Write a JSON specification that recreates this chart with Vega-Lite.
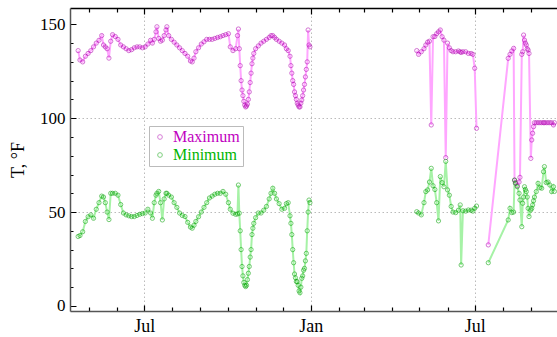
{
"$schema":"https://vega.github.io/schema/vega-lite/v6.json",
"width":488,"height":303,
"autosize":{"type":"none"},
"padding":{"left":70,"top":8,"right":0,"bottom":26},
"background":"white",
"config":{"view":{"stroke":null},"font":"Liberation Serif"},
"data":{"values":[
{"d":"2013-04-19","s":1,"Maximum":136,"Minimum":37},
{"d":"2013-04-21","s":1,"Maximum":131,"Minimum":37.5},
{"d":"2013-04-24","s":1,"Maximum":130,"Minimum":39.5},
{"d":"2013-04-27","s":1,"Maximum":133,"Minimum":45},
{"d":"2013-04-30","s":1,"Maximum":134.5,"Minimum":47.5},
{"d":"2013-05-03","s":1,"Maximum":136,"Minimum":48.5},
{"d":"2013-05-06","s":1,"Maximum":138,"Minimum":46.7},
{"d":"2013-05-09","s":1,"Maximum":140,"Minimum":51.5},
{"d":"2013-05-12","s":1,"Maximum":141.5,"Minimum":55},
{"d":"2013-05-15","s":1,"Maximum":144,"Minimum":58.5},
{"d":"2013-05-17","s":1,"Maximum":139,"Minimum":58},
{"d":"2013-05-19","s":1,"Maximum":138,"Minimum":55},
{"d":"2013-05-21","s":1,"Maximum":137,"Minimum":50},
{"d":"2013-05-23","s":1,"Maximum":132,"Minimum":46},
{"d":"2013-05-25","s":1,"Maximum":141,"Minimum":60},
{"d":"2013-05-27","s":1,"Maximum":144.5,"Minimum":60},
{"d":"2013-05-30","s":1,"Maximum":143.5,"Minimum":60},
{"d":"2013-06-02","s":1,"Maximum":142,"Minimum":59},
{"d":"2013-06-05","s":1,"Maximum":139,"Minimum":54},
{"d":"2013-06-08","s":1,"Maximum":138,"Minimum":49.5},
{"d":"2013-06-11","s":1,"Maximum":137,"Minimum":48.5},
{"d":"2013-06-14","s":1,"Maximum":136,"Minimum":48},
{"d":"2013-06-17","s":1,"Maximum":136.5,"Minimum":47.6},
{"d":"2013-06-20","s":1,"Maximum":137.5,"Minimum":47.6},
{"d":"2013-06-23","s":1,"Maximum":138,"Minimum":48.2},
{"d":"2013-06-26","s":1,"Maximum":138,"Minimum":48.8},
{"d":"2013-06-29","s":1,"Maximum":137.5,"Minimum":49.2},
{"d":"2013-07-02","s":1,"Maximum":138,"Minimum":49.5},
{"d":"2013-07-05","s":1,"Maximum":139.5,"Minimum":51.5},
{"d":"2013-07-08","s":1,"Maximum":141.5,"Minimum":49.5},
{"d":"2013-07-10","s":1,"Maximum":140,"Minimum":46.7},
{"d":"2013-07-12","s":1,"Maximum":142,"Minimum":55},
{"d":"2013-07-14","s":1,"Maximum":146,"Minimum":59},
{"d":"2013-07-15","s":1,"Maximum":148.7,"Minimum":60},
{"d":"2013-07-17","s":1,"Maximum":142.5,"Minimum":61},
{"d":"2013-07-19","s":1,"Maximum":141,"Minimum":55},
{"d":"2013-07-21","s":1,"Maximum":141.6,"Minimum":45.8},
{"d":"2013-07-23","s":1,"Maximum":144,"Minimum":57},
{"d":"2013-07-25","s":1,"Maximum":147,"Minimum":60},
{"d":"2013-07-26","s":1,"Maximum":148.7,"Minimum":60},
{"d":"2013-07-28","s":1,"Maximum":144,"Minimum":59},
{"d":"2013-07-31","s":1,"Maximum":142,"Minimum":58},
{"d":"2013-08-03","s":1,"Maximum":140.5,"Minimum":55},
{"d":"2013-08-06","s":1,"Maximum":139,"Minimum":52.5},
{"d":"2013-08-09","s":1,"Maximum":137.5,"Minimum":49.5},
{"d":"2013-08-12","s":1,"Maximum":136,"Minimum":48.2},
{"d":"2013-08-15","s":1,"Maximum":134.5,"Minimum":47.6},
{"d":"2013-08-18","s":1,"Maximum":133,"Minimum":44.5},
{"d":"2013-08-21","s":1,"Maximum":130.5,"Minimum":42},
{"d":"2013-08-23","s":1,"Maximum":130,"Minimum":41.4},
{"d":"2013-08-25","s":1,"Maximum":132,"Minimum":43},
{"d":"2013-08-27","s":1,"Maximum":135.4,"Minimum":45},
{"d":"2013-08-30","s":1,"Maximum":137.5,"Minimum":47.5},
{"d":"2013-09-02","s":1,"Maximum":139.5,"Minimum":50},
{"d":"2013-09-05","s":1,"Maximum":140.7,"Minimum":52.5},
{"d":"2013-09-08","s":1,"Maximum":142,"Minimum":55},
{"d":"2013-09-11","s":1,"Maximum":142,"Minimum":57.5},
{"d":"2013-09-14","s":1,"Maximum":142,"Minimum":58.5},
{"d":"2013-09-17","s":1,"Maximum":142.5,"Minimum":59.5},
{"d":"2013-09-20","s":1,"Maximum":143,"Minimum":60},
{"d":"2013-09-23","s":1,"Maximum":143.4,"Minimum":60},
{"d":"2013-09-26","s":1,"Maximum":144,"Minimum":61},
{"d":"2013-09-29","s":1,"Maximum":144.5,"Minimum":59.5},
{"d":"2013-10-02","s":1,"Maximum":145,"Minimum":55},
{"d":"2013-10-04","s":1,"Maximum":138,"Minimum":51.5},
{"d":"2013-10-07","s":1,"Maximum":136,"Minimum":49.4},
{"d":"2013-10-10","s":1,"Maximum":137,"Minimum":48.8},
{"d":"2013-10-12","s":1,"Maximum":144,"Minimum":49},
{"d":"2013-10-13","s":1,"Maximum":147.5,"Minimum":64.4},
{"d":"2013-10-14","s":1,"Maximum":137,"Minimum":49.4},
{"d":"2013-10-15","s":1,"Maximum":128,"Minimum":40},
{"d":"2013-10-16","s":1,"Maximum":120,"Minimum":30},
{"d":"2013-10-17","s":1,"Maximum":115,"Minimum":21},
{"d":"2013-10-18","s":1,"Maximum":112,"Minimum":16},
{"d":"2013-10-19","s":1,"Maximum":109,"Minimum":12.5},
{"d":"2013-10-20","s":1,"Maximum":107,"Minimum":11},
{"d":"2013-10-21","s":1,"Maximum":106,"Minimum":10.3},
{"d":"2013-10-22","s":1,"Maximum":106.5,"Minimum":11},
{"d":"2013-10-23","s":1,"Maximum":107.5,"Minimum":14},
{"d":"2013-10-24","s":1,"Maximum":110,"Minimum":17.4},
{"d":"2013-10-25","s":1,"Maximum":114,"Minimum":21},
{"d":"2013-10-26","s":1,"Maximum":119,"Minimum":26},
{"d":"2013-10-27","s":1,"Maximum":124,"Minimum":30},
{"d":"2013-10-28","s":1,"Maximum":129,"Minimum":38},
{"d":"2013-10-29","s":1,"Maximum":132,"Minimum":41.4},
{"d":"2013-10-30","s":1,"Maximum":134.5,"Minimum":44},
{"d":"2013-11-01","s":1,"Maximum":137,"Minimum":47},
{"d":"2013-11-04","s":1,"Maximum":138.5,"Minimum":49.5},
{"d":"2013-11-07","s":1,"Maximum":140,"Minimum":49.5},
{"d":"2013-11-10","s":1,"Maximum":141,"Minimum":51},
{"d":"2013-11-13","s":1,"Maximum":142,"Minimum":53},
{"d":"2013-11-16","s":1,"Maximum":143,"Minimum":57},
{"d":"2013-11-18","s":1,"Maximum":144,"Minimum":60},
{"d":"2013-11-20","s":1,"Maximum":144,"Minimum":62.7},
{"d":"2013-11-22","s":1,"Maximum":143,"Minimum":60},
{"d":"2013-11-24","s":1,"Maximum":142,"Minimum":57},
{"d":"2013-11-27","s":1,"Maximum":141,"Minimum":54.5},
{"d":"2013-11-30","s":1,"Maximum":140,"Minimum":51.5},
{"d":"2013-12-03","s":1,"Maximum":139,"Minimum":52},
{"d":"2013-12-05","s":1,"Maximum":137,"Minimum":54.5},
{"d":"2013-12-07","s":1,"Maximum":136,"Minimum":55},
{"d":"2013-12-09","s":1,"Maximum":133,"Minimum":48},
{"d":"2013-12-10","s":1,"Maximum":128,"Minimum":44},
{"d":"2013-12-11","s":1,"Maximum":124,"Minimum":38},
{"d":"2013-12-12","s":1,"Maximum":120,"Minimum":30},
{"d":"2013-12-13","s":1,"Maximum":118,"Minimum":23},
{"d":"2013-12-14","s":1,"Maximum":114,"Minimum":17},
{"d":"2013-12-15","s":1,"Maximum":112,"Minimum":15},
{"d":"2013-12-16","s":1,"Maximum":110,"Minimum":13},
{"d":"2013-12-17","s":1,"Maximum":108,"Minimum":12.9},
{"d":"2013-12-18","s":1,"Maximum":107,"Minimum":11},
{"d":"2013-12-19","s":1,"Maximum":106,"Minimum":8},
{"d":"2013-12-20","s":1,"Maximum":106,"Minimum":7},
{"d":"2013-12-21","s":1,"Maximum":108,"Minimum":10},
{"d":"2013-12-22","s":1,"Maximum":109.7,"Minimum":14.7},
{"d":"2013-12-23","s":1,"Maximum":112,"Minimum":16},
{"d":"2013-12-24","s":1,"Maximum":115,"Minimum":19},
{"d":"2013-12-25","s":1,"Maximum":118,"Minimum":20},
{"d":"2013-12-26","s":1,"Maximum":122,"Minimum":24},
{"d":"2013-12-27","s":1,"Maximum":126,"Minimum":28},
{"d":"2013-12-28","s":1,"Maximum":130,"Minimum":40},
{"d":"2013-12-29","s":1,"Maximum":147,"Minimum":50},
{"d":"2013-12-30","s":1,"Maximum":139,"Minimum":56.4},
{"d":"2013-12-31","s":1,"Maximum":138,"Minimum":55},
{"d":"2014-04-28","s":2,"Maximum":136,"Minimum":50.2},
{"d":"2014-04-30","s":2,"Maximum":134,"Minimum":49.5},
{"d":"2014-05-03","s":2,"Maximum":135.4,"Minimum":48.5},
{"d":"2014-05-06","s":2,"Maximum":137,"Minimum":55},
{"d":"2014-05-08","s":2,"Maximum":139,"Minimum":60.9},
{"d":"2014-05-10","s":2,"Maximum":140.5,"Minimum":61.8},
{"d":"2014-05-12","s":2,"Maximum":141,"Minimum":66},
{"d":"2014-05-14","s":2,"Maximum":96.4,"Minimum":73.3},
{"d":"2014-05-16","s":2,"Maximum":143.4,"Minimum":64},
{"d":"2014-05-18","s":2,"Maximum":143.5,"Minimum":62},
{"d":"2014-05-20","s":2,"Maximum":145,"Minimum":55},
{"d":"2014-05-22","s":2,"Maximum":146,"Minimum":45.3},
{"d":"2014-05-24","s":2,"Maximum":147,"Minimum":68.9},
{"d":"2014-05-26","s":2,"Maximum":143.4,"Minimum":65.7},
{"d":"2014-05-28","s":2,"Maximum":141.6,"Minimum":63.5},
{"d":"2014-05-30","s":2,"Maximum":79,"Minimum":77},
{"d":"2014-06-01","s":2,"Maximum":140,"Minimum":61.8},
{"d":"2014-06-03","s":2,"Maximum":137.5,"Minimum":59},
{"d":"2014-06-05","s":2,"Maximum":136,"Minimum":53},
{"d":"2014-06-07","s":2,"Maximum":135.4,"Minimum":50},
{"d":"2014-06-10","s":2,"Maximum":135.4,"Minimum":49.7},
{"d":"2014-06-13","s":2,"Maximum":135.8,"Minimum":51},
{"d":"2014-06-15","s":2,"Maximum":135.4,"Minimum":53.8},
{"d":"2014-06-16","s":2,"Maximum":135,"Minimum":21.8},
{"d":"2014-06-18","s":2,"Maximum":135.4,"Minimum":50.7},
{"d":"2014-06-21","s":2,"Maximum":135.4,"Minimum":50.5},
{"d":"2014-06-24","s":2,"Maximum":134.5,"Minimum":51.1},
{"d":"2014-06-27","s":2,"Maximum":134.5,"Minimum":51},
{"d":"2014-06-29","s":2,"Maximum":134,"Minimum":50.5},
{"d":"2014-07-01","s":2,"Maximum":126.6,"Minimum":52},
{"d":"2014-07-03","s":2,"Maximum":94.6,"Minimum":53.2},
{"d":"2014-07-16","s":3,"Maximum":32.5,"Minimum":23},
{"d":"2014-08-07","s":3,"Maximum":131.9,"Minimum":45.8},
{"d":"2014-08-09","s":3,"Maximum":134,"Minimum":52},
{"d":"2014-08-11","s":3,"Maximum":135.8,"Minimum":49.7},
{"d":"2014-08-13","s":3,"Maximum":137.2,"Minimum":50},
{"d":"2014-08-14","s":3,"Maximum":67,"Minimum":67},
{"d":"2014-08-15","s":3,"Maximum":65.7,"Minimum":65.3},
{"d":"2014-08-17","s":3,"Maximum":64,"Minimum":63.5},
{"d":"2014-08-19","s":3,"Maximum":66,"Minimum":60},
{"d":"2014-08-20","s":3,"Maximum":68.5,"Minimum":56.4},
{"d":"2014-08-22","s":3,"Maximum":134,"Minimum":42.2},
{"d":"2014-08-23","s":3,"Maximum":135.4,"Minimum":54.7},
{"d":"2014-08-24","s":3,"Maximum":144.3,"Minimum":58},
{"d":"2014-08-25","s":3,"Maximum":141.6,"Minimum":63.5},
{"d":"2014-08-26","s":3,"Maximum":140,"Minimum":62},
{"d":"2014-08-27","s":3,"Maximum":139,"Minimum":60.9},
{"d":"2014-08-28","s":3,"Maximum":137,"Minimum":58},
{"d":"2014-08-29","s":3,"Maximum":136.3,"Minimum":52},
{"d":"2014-08-30","s":3,"Maximum":134.5,"Minimum":47.6},
{"d":"2014-09-01","s":3,"Maximum":78.6,"Minimum":51.1},
{"d":"2014-09-02","s":3,"Maximum":88.4,"Minimum":52},
{"d":"2014-09-03","s":3,"Maximum":92,"Minimum":53.8},
{"d":"2014-09-04","s":3,"Maximum":95.5,"Minimum":56},
{"d":"2014-09-05","s":3,"Maximum":97.6,"Minimum":58},
{"d":"2014-09-07","s":3,"Maximum":97.6,"Minimum":60.9},
{"d":"2014-09-09","s":3,"Maximum":97.6,"Minimum":65.3},
{"d":"2014-09-11","s":3,"Maximum":97.6,"Minimum":63},
{"d":"2014-09-13","s":3,"Maximum":97.6,"Minimum":62.7},
{"d":"2014-09-15","s":3,"Maximum":97.6,"Minimum":71.5},
{"d":"2014-09-16","s":3,"Maximum":97.6,"Minimum":74.2},
{"d":"2014-09-18","s":3,"Maximum":97.6,"Minimum":65.7},
{"d":"2014-09-20","s":3,"Maximum":97.6,"Minimum":66},
{"d":"2014-09-22","s":3,"Maximum":97.6,"Minimum":64.4},
{"d":"2014-09-24","s":3,"Maximum":97.6,"Minimum":60.9},
{"d":"2014-09-26","s":3,"Maximum":96.4,"Minimum":63.5},
{"d":"2014-09-27","s":3,"Maximum":97.6,"Minimum":61}
]},
"transform":[{"fold":["Maximum","Minimum"],"as":["k","v"]}],
"encoding":{
"y":{"field":"v","type":"quantitative","scale":{"domain":[-2.7,158.7],"nice":false,"zero":false},
"axis":{"orient":"left","title":"T, °F","titleFont":"Liberation Serif","titleFontSize":18,"titleFontWeight":"normal","titleColor":"black","titlePadding":12,
"values":[0,10,20,30,40,50,60,70,80,90,100,110,120,130,140,150],
"labelExpr":"datum.value % 50 == 0 ? datum.label : ''","labelFont":"Liberation Serif","labelFontSize":17,"labelColor":"black","labelPadding":11,
"tickSize":{"condition":{"test":"datum.value % 50 == 0","value":-6},"value":-3},"tickColor":"black","tickWidth":1,
"domainColor":"#555555","domainWidth":1.5,
"grid":true,"gridColor":"#bbbbbb","gridDash":[1.5,2.5],"gridWidth":1,
"gridOpacity":{"condition":{"test":"datum.value == 50 || datum.value == 100","value":1},"value":0}}}
},
"layer":[
{"mark":{"type":"line","strokeWidth":2,"clip":true},
"encoding":{
"x":{"field":"d","type":"temporal","scale":{"type":"utc","nice":false,"domain":[{"year":2013,"month":4,"date":10,"utc":true},{"year":2014,"month":10,"date":1,"utc":true}]},
"axis":{"orient":"bottom","title":null,"tickCount":{"interval":"month","step":1},
"labelExpr":"utcmonth(datum.value) == 6 ? 'Jul' : (utcmonth(datum.value) == 0 ? 'Jan' : '')",
"labelOverlap":false,"labelFlush":false,"labelFont":"Liberation Serif","labelFontSize":18,"labelColor":"black","labelPadding":12,
"tickSize":{"condition":{"test":"utcmonth(datum.value) % 6 == 0","value":-6},"value":-4},"tickColor":"black","tickWidth":1.2,
"domainColor":"#555555","domainWidth":1.5,
"grid":true,"gridColor":"#bbbbbb","gridDash":[1.5,2.5],"gridWidth":1,
"gridOpacity":{"condition":{"test":"utcmonth(datum.value) % 6 == 0","value":1},"value":0}}},
"color":{"field":"k","type":"nominal","scale":{"domain":["Maximum","Minimum"],"range":["#ffa6ff","#a6f2a6"]},"legend":null},
"detail":{"field":"s","type":"nominal"}}},
{"mark":{"type":"point","filled":false,"size":18,"strokeWidth":1,"opacity":0.55,"clip":true},
"encoding":{
"x":{"field":"d","type":"temporal",
"axis":{"orient":"top","title":null,"tickCount":{"interval":"month","step":1},"labels":false,
"tickSize":{"condition":{"test":"utcmonth(datum.value) % 6 == 0","value":-6},"value":-4},"tickColor":"black","tickWidth":1.2,
"domainColor":"black","domainWidth":1.5,"grid":false}},
"color":{"field":"k","type":"nominal","scale":{"domain":["Maximum","Minimum"],"range":["#b000b0","#00a000"]},
"legend":{"title":null,"orient":"none","legendX":79,"legendY":118,"direction":"vertical","labelFont":"Liberation Serif","labelFontSize":16,"symbolType":"circle","symbolSize":22,"symbolStrokeWidth":1,"symbolOpacity":0.5,"strokeColor":"#bbbbbb","fillColor":"white","padding":3,"rowPadding":2,"labelOffset":5,"labelLimit":200,
"labelColor":{"expr":"datum.label == 'Maximum' ? '#bf00bf' : '#00b400'"}}}}}
],
"resolve":{"axis":{"x":"independent"},"scale":{"color":"independent"}}
}
